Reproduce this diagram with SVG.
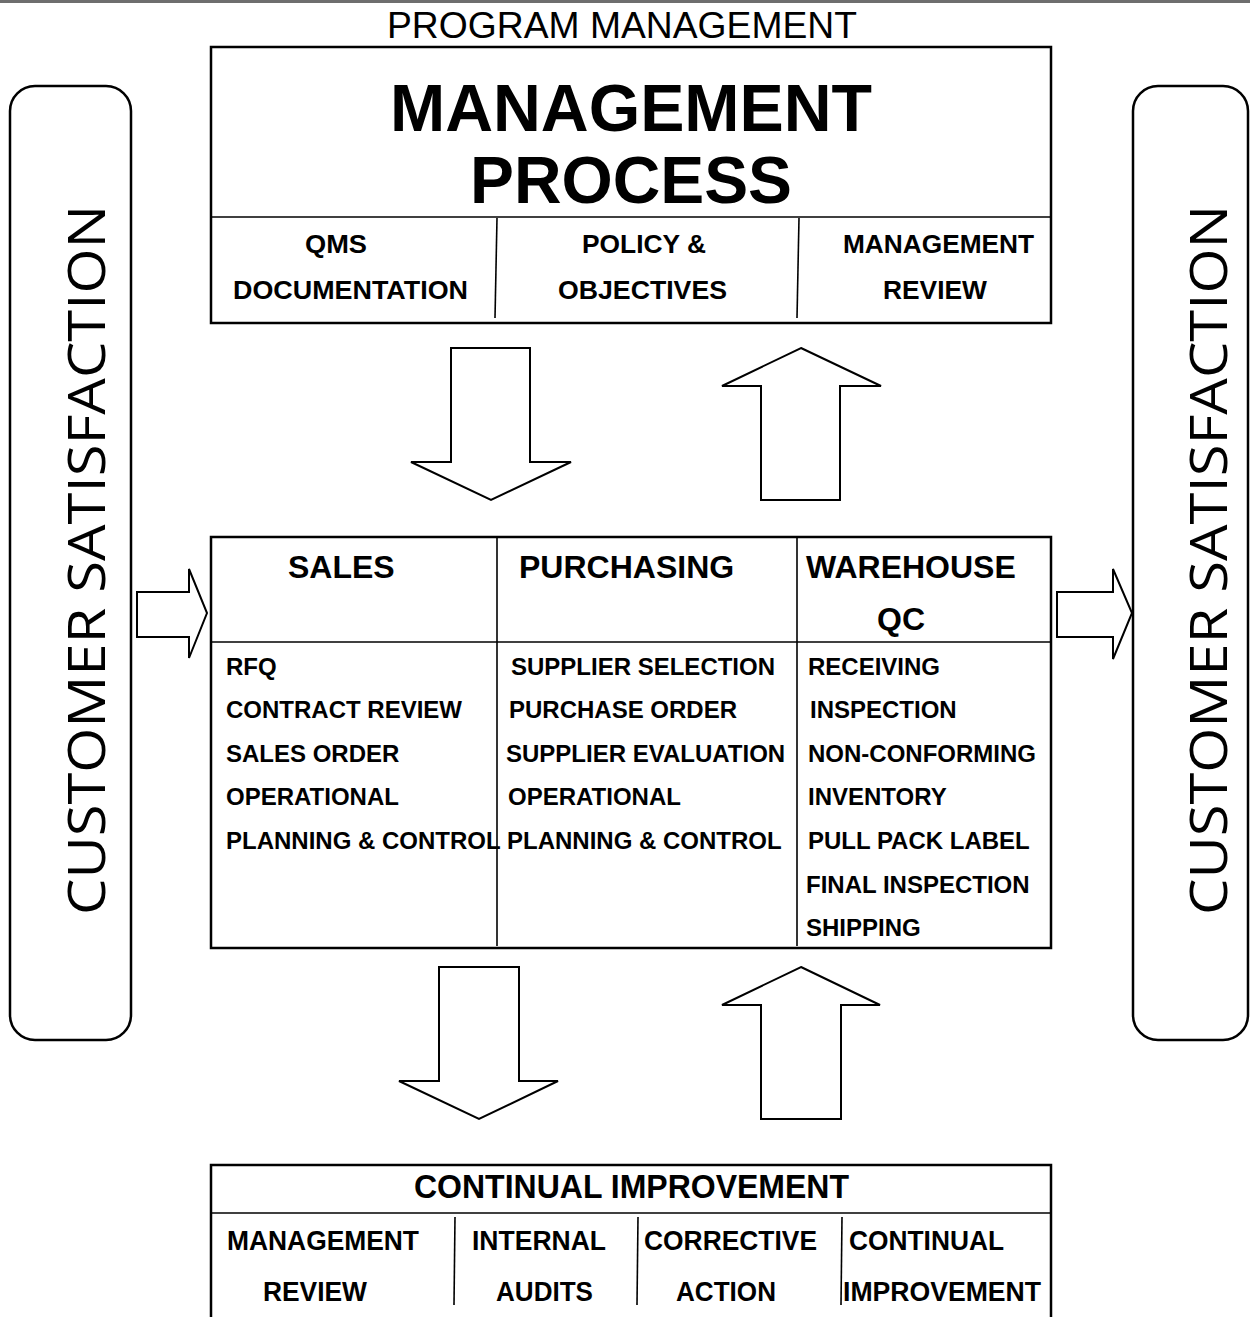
<svg xmlns="http://www.w3.org/2000/svg" width="1250" height="1317" viewBox="0 0 1250 1317">
<style>
.box{fill:#fff;stroke:#000;stroke-width:2.5}
.div{fill:none;stroke:#000;stroke-width:1.6}
.arr{fill:#fff;stroke:#000;stroke-width:2;stroke-linejoin:miter}
.t{font-family:"Liberation Sans",Arial,sans-serif;fill:#000}
.b{font-weight:bold}
.cs{font-family:"Open Sans","Noto Sans",sans-serif;font-size:52px;fill:#000}
.h{font-size:32px}
.l{font-size:24px}
.s{font-size:26px}
</style>
<rect x="0" y="0" width="1250" height="3" fill="#6e6e6e"/>
<text class="t" x="387" y="38" font-size="37" textLength="470" lengthAdjust="spacingAndGlyphs">PROGRAM MANAGEMENT</text>

<g id="customer-left">
<rect class="box" x="10" y="86" width="121" height="954" rx="25" ry="25" stroke-width="2"/>
<text class="cs" transform="translate(105,560) rotate(-90)" text-anchor="middle" textLength="710" lengthAdjust="spacingAndGlyphs">CUSTOMER SATISFACTION</text>
</g>
<g id="customer-right">
<rect class="box" x="1133" y="86" width="115" height="954" rx="25" ry="25" stroke-width="2"/>
<text class="cs" transform="translate(1227,560) rotate(-90)" text-anchor="middle" textLength="710" lengthAdjust="spacingAndGlyphs">CUSTOMER SATISFACTION</text>
</g>

<g id="management-process">
<rect class="box" x="211" y="47" width="840" height="276"/>
<line class="div" x1="211" y1="217" x2="1051" y2="217" stroke-width="2.5"/>
<line class="div" x1="497" y1="218" x2="495" y2="318"/>
<line class="div" x1="799" y1="218" x2="797" y2="318"/>
<text class="t b" x="390" y="131" font-size="66" textLength="482" lengthAdjust="spacingAndGlyphs">MANAGEMENT</text>
<text class="t b" x="470" y="203" font-size="66" textLength="322" lengthAdjust="spacingAndGlyphs">PROCESS</text>
<text class="t b s" x="305" y="253" textLength="62" lengthAdjust="spacingAndGlyphs">QMS</text>
<text class="t b s" x="233" y="299" textLength="235" lengthAdjust="spacingAndGlyphs">DOCUMENTATION</text>
<text class="t b s" x="582" y="253" textLength="124" lengthAdjust="spacingAndGlyphs">POLICY &amp;</text>
<text class="t b s" x="558" y="299" textLength="169" lengthAdjust="spacingAndGlyphs">OBJECTIVES</text>
<text class="t b s" x="843" y="253" textLength="191" lengthAdjust="spacingAndGlyphs">MANAGEMENT</text>
<text class="t b s" x="883" y="299" textLength="104" lengthAdjust="spacingAndGlyphs">REVIEW</text>
</g>

<g id="operations">
<rect class="box" x="211" y="537" width="840" height="411"/>
<line class="div" x1="211" y1="642" x2="1051" y2="642" stroke-width="2.5"/>
<line class="div" x1="497" y1="537" x2="497" y2="946" stroke-width="2"/>
<line class="div" x1="797" y1="537" x2="797" y2="946" stroke-width="2"/>
<text class="t b h" x="288" y="578">SALES</text>
<text class="t b h" x="519" y="578">PURCHASING</text>
<text class="t b h" x="806" y="578">WAREHOUSE</text>
<text class="t b h" x="901" y="630" text-anchor="middle">QC</text>
<g class="t b l">
<text x="226" y="675">RFQ</text>
<text x="226" y="718">CONTRACT REVIEW</text>
<text x="226" y="762">SALES ORDER</text>
<text x="226" y="805">OPERATIONAL</text>
<text x="226" y="849">PLANNING &amp; CONTROL</text>
<text x="511" y="675">SUPPLIER SELECTION</text>
<text x="509" y="718">PURCHASE ORDER</text>
<text x="506" y="762">SUPPLIER EVALUATION</text>
<text x="508" y="805">OPERATIONAL</text>
<text x="507" y="849">PLANNING &amp; CONTROL</text>
<text x="808" y="675">RECEIVING</text>
<text x="810" y="718">INSPECTION</text>
<text x="808" y="762">NON-CONFORMING</text>
<text x="808" y="805">INVENTORY</text>
<text x="808" y="849">PULL PACK LABEL</text>
<text x="806" y="893">FINAL INSPECTION</text>
<text x="806" y="936">SHIPPING</text>
</g>
</g>

<g id="continual-improvement">
<path class="box" d="M211,1318 V1165 H1051 V1318"/>
<line class="div" x1="211" y1="1213" x2="1051" y2="1213" stroke-width="2.5"/>
<line class="div" x1="455" y1="1217" x2="454" y2="1305"/>
<line class="div" x1="638" y1="1217" x2="637" y2="1305"/>
<line class="div" x1="842" y1="1217" x2="841" y2="1305"/>
<text class="t b" x="414" y="1198" font-size="34" textLength="435" lengthAdjust="spacingAndGlyphs">CONTINUAL IMPROVEMENT</text>
<text class="t b" x="227" y="1250" font-size="27" textLength="192" lengthAdjust="spacingAndGlyphs">MANAGEMENT</text>
<text class="t b" x="263" y="1301" font-size="27" textLength="104" lengthAdjust="spacingAndGlyphs">REVIEW</text>
<text class="t b" x="472" y="1250" font-size="27" textLength="134" lengthAdjust="spacingAndGlyphs">INTERNAL</text>
<text class="t b" x="496" y="1301" font-size="27" textLength="97" lengthAdjust="spacingAndGlyphs">AUDITS</text>
<text class="t b" x="644" y="1250" font-size="27" textLength="173" lengthAdjust="spacingAndGlyphs">CORRECTIVE</text>
<text class="t b" x="676" y="1301" font-size="27" textLength="100" lengthAdjust="spacingAndGlyphs">ACTION</text>
<text class="t b" x="849" y="1250" font-size="27" textLength="155" lengthAdjust="spacingAndGlyphs">CONTINUAL</text>
<text class="t b" x="843" y="1301" font-size="27" textLength="198" lengthAdjust="spacingAndGlyphs">IMPROVEMENT</text>
</g>

<g id="connectors">
<polygon class="arr" points="451,348 530,348 530,462 571,462 491,500 411,462 451,462"/>
<polygon class="arr" points="801,348 881,386 840,386 840,500 761,500 761,386 722,386"/>
<polygon class="arr" points="137,592 189,592 189,569 207,613 189,658 189,637 137,637"/>
<polygon class="arr" points="1057,592 1113,592 1113,569 1132,613 1113,659 1113,637 1057,637"/>
<polygon class="arr" points="439,967 519,967 519,1081 558,1081 479,1119 399,1081 439,1081"/>
<polygon class="arr" points="801,967 880,1005 841,1005 841,1119 761,1119 761,1005 722,1005"/>
</g>
</svg>
